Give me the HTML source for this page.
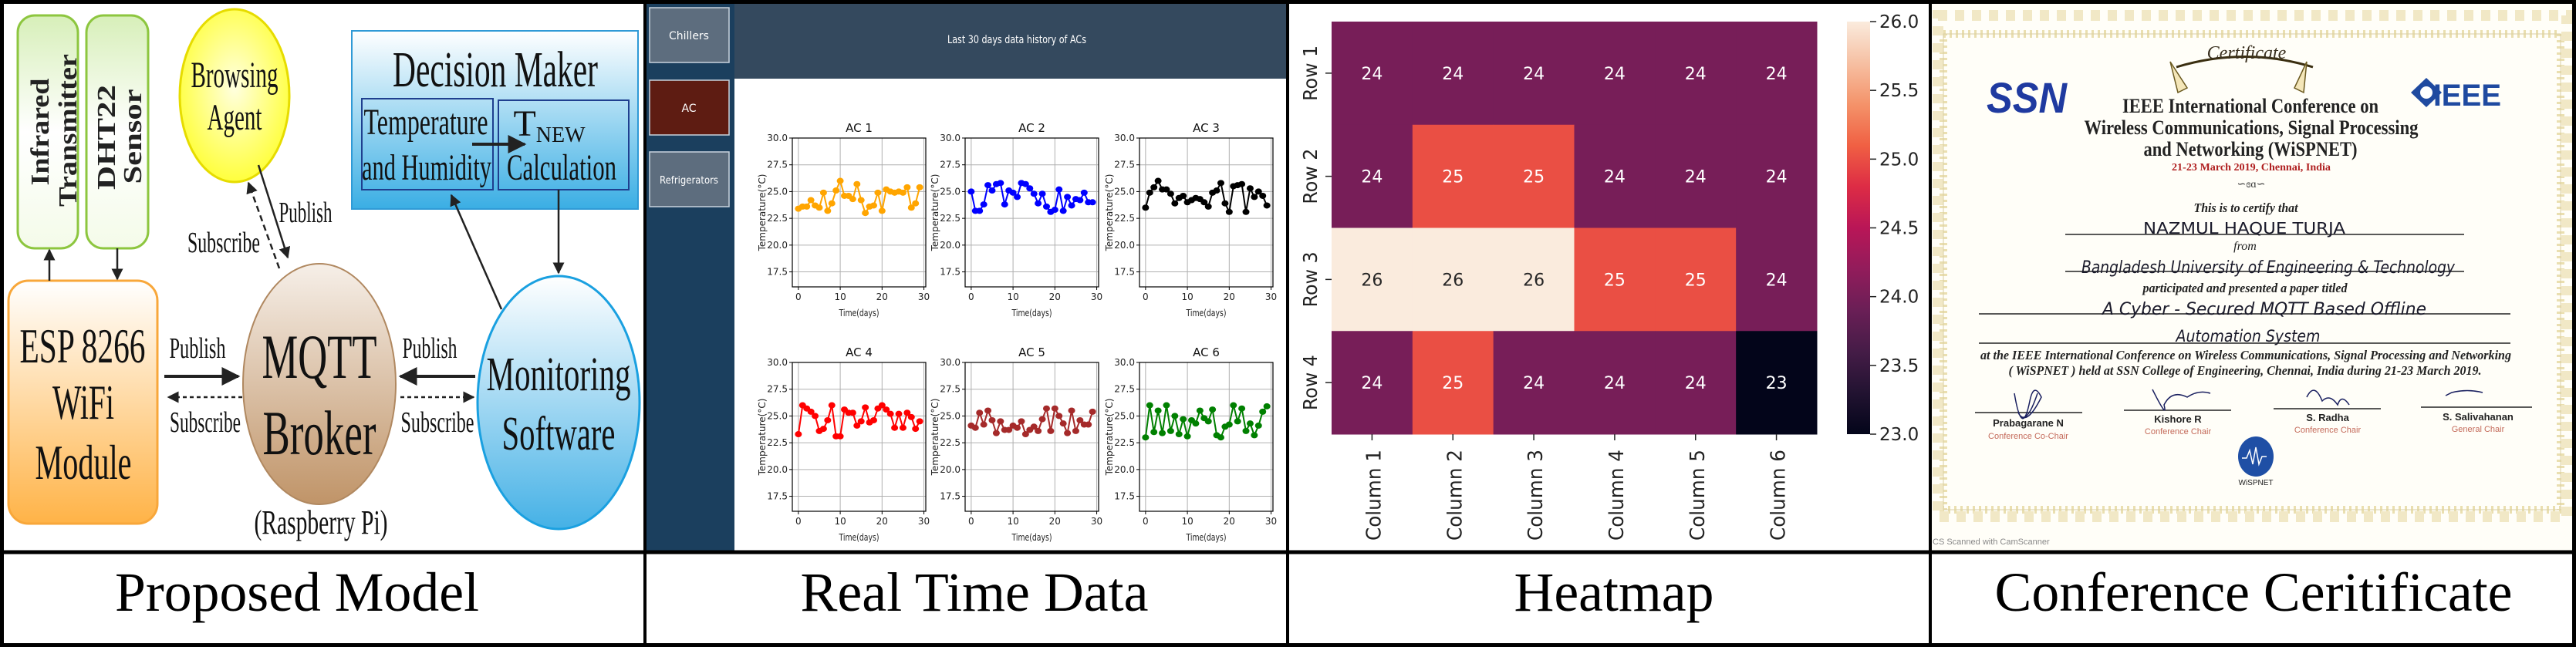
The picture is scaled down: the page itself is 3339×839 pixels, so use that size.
<!DOCTYPE html>
<html><head><meta charset="utf-8"><style>
html,body{margin:0;padding:0;background:#fff}
svg{display:block;font-family:"Liberation Serif",serif}
.sans{font-family:"DejaVu Sans","Liberation Sans",sans-serif}
</style></head><body>
<svg id="root" width="3339" height="839" viewBox="0 0 3339 839" xmlns="http://www.w3.org/2000/svg">
<defs>
<linearGradient id="gGreen" x1="0" y1="0" x2="0" y2="1"><stop offset="0" stop-color="#d7efb9"/><stop offset="0.5" stop-color="#fff"/><stop offset="1" stop-color="#f4fbe9"/></linearGradient>
<linearGradient id="gOrange" x1="0" y1="0" x2="0" y2="1"><stop offset="0" stop-color="#fff"/><stop offset="1" stop-color="#ffb347"/></linearGradient>
<radialGradient id="gYellow" cx="0.5" cy="0.45" r="0.6"><stop offset="0" stop-color="#ffffe0"/><stop offset="1" stop-color="#ffff2e"/></radialGradient>
<linearGradient id="gBlue" x1="0" y1="0" x2="0" y2="1"><stop offset="0" stop-color="#fff"/><stop offset="1" stop-color="#3aaee4"/></linearGradient>
<linearGradient id="gBrown" x1="0" y1="0" x2="0" y2="1"><stop offset="0" stop-color="#f6efe8"/><stop offset="1" stop-color="#c09468"/></linearGradient>
<linearGradient id="gBlue2" x1="0" y1="0" x2="0" y2="1"><stop offset="0" stop-color="#fff"/><stop offset="1" stop-color="#45b1e6"/></linearGradient>
<linearGradient id="gRocket" x1="0" y1="1" x2="0" y2="0">
<stop offset="0" stop-color="#03051a"/><stop offset="0.1" stop-color="#221331"/><stop offset="0.2" stop-color="#451c47"/><stop offset="0.3" stop-color="#6a1f56"/><stop offset="0.4" stop-color="#921c5b"/><stop offset="0.5" stop-color="#b91657"/><stop offset="0.6" stop-color="#dd2c45"/><stop offset="0.7" stop-color="#f06043"/><stop offset="0.8" stop-color="#f4936a"/><stop offset="0.9" stop-color="#f6c0a3"/><stop offset="1" stop-color="#faebdd"/></linearGradient>
<marker id="ah" viewBox="0 0 10 10" refX="9" refY="5" markerWidth="6" markerHeight="6" orient="auto-start-reverse"><path d="M0,0 L10,5 L0,10 z" fill="#222"/></marker>
</defs>

<!-- ============ PANEL 1: Proposed Model ============ -->
<g>
<rect x="23" y="20" width="78" height="302" rx="22" fill="url(#gGreen)" stroke="#8dc63f" stroke-width="3"/>
<rect x="112" y="20" width="80" height="302" rx="22" fill="url(#gGreen)" stroke="#8dc63f" stroke-width="3"/>
<g font-weight="bold" font-size="34" fill="#222">
<text transform="translate(63,171) rotate(-90)" text-anchor="middle" textLength="139" lengthAdjust="spacingAndGlyphs">Infrared</text>
<text transform="translate(99,169) rotate(-90)" text-anchor="middle" textLength="198" lengthAdjust="spacingAndGlyphs">Transmitter</text>
<text transform="translate(149,178) rotate(-90)" text-anchor="middle" textLength="136" lengthAdjust="spacingAndGlyphs">DHT22</text>
<text transform="translate(183,177) rotate(-90)" text-anchor="middle" textLength="123" lengthAdjust="spacingAndGlyphs">Sensor</text>
</g>
<rect x="11" y="364" width="193" height="315" rx="26" fill="url(#gOrange)" stroke="#f8a73a" stroke-width="3"/>
<ellipse cx="304" cy="124" rx="71" ry="112" fill="url(#gYellow)" stroke="#e6dc00" stroke-width="3"/>
<rect x="456" y="40" width="371" height="231" fill="url(#gBlue)" stroke="#2f9ad6" stroke-width="2"/>
<rect x="469" y="128" width="170" height="118" fill="none" stroke="#1f3f8f" stroke-width="2"/>
<rect x="646" y="130" width="169" height="116" fill="none" stroke="#1f3f8f" stroke-width="2"/>
<ellipse cx="414" cy="498" rx="99" ry="156" fill="url(#gBrown)" stroke="#b08860" stroke-width="2"/>
<ellipse cx="724" cy="522" rx="105" ry="164" fill="url(#gBlue2)" stroke="#1aa0e0" stroke-width="3"/>

<g stroke="#222" stroke-width="2.5" fill="none">
<line x1="64" y1="364" x2="64" y2="324" marker-end="url(#ah)"/>
<line x1="152" y1="322" x2="152" y2="362" marker-end="url(#ah)"/>
<line x1="213" y1="488" x2="309" y2="488" stroke-width="4" marker-end="url(#ah)"/>
<line x1="314" y1="515" x2="218" y2="515" stroke-dasharray="5,4" marker-end="url(#ah)"/>
<line x1="616" y1="488" x2="519" y2="488" stroke-width="4" marker-end="url(#ah)"/>
<line x1="519" y1="515" x2="614" y2="515" stroke-dasharray="5,4" marker-end="url(#ah)"/>
<line x1="335" y1="214" x2="373" y2="334" marker-end="url(#ah)"/>
<line x1="362" y1="348" x2="322" y2="237" stroke-dasharray="8,5" marker-end="url(#ah)"/>
<line x1="650" y1="401" x2="585" y2="253" marker-end="url(#ah)"/>
<line x1="724" y1="246" x2="724" y2="354" marker-end="url(#ah)"/>
<line x1="612" y1="187" x2="680" y2="187" stroke-width="4" marker-end="url(#ah)"/>
</g>

<g fill="#111">
<text x="304" y="113" font-size="48" text-anchor="middle" textLength="113" lengthAdjust="spacingAndGlyphs">Browsing</text>
<text x="304" y="168" font-size="48" text-anchor="middle" textLength="71" lengthAdjust="spacingAndGlyphs">Agent</text>
<text x="642" y="112" font-size="66" text-anchor="middle" textLength="266" lengthAdjust="spacingAndGlyphs">Decision Maker</text>
<text x="552" y="174" font-size="48" text-anchor="middle" textLength="161" lengthAdjust="spacingAndGlyphs">Temperature</text>
<text x="553" y="233" font-size="48" text-anchor="middle" textLength="168" lengthAdjust="spacingAndGlyphs">and Humidity</text>
<text x="712" y="176" font-size="48" text-anchor="middle">T<tspan font-size="28" dy="8">NEW</tspan></text>
<text x="728" y="233" font-size="48" text-anchor="middle" textLength="142" lengthAdjust="spacingAndGlyphs">Calculation</text>
<text x="290" y="327" font-size="38" text-anchor="middle" textLength="94" lengthAdjust="spacingAndGlyphs">Subscribe</text>
<text x="396" y="288" font-size="38" text-anchor="middle" textLength="69" lengthAdjust="spacingAndGlyphs">Publish</text>
<text x="107" y="470" font-size="64" text-anchor="middle" textLength="163" lengthAdjust="spacingAndGlyphs">ESP 8266</text>
<text x="108" y="543" font-size="64" text-anchor="middle" textLength="80" lengthAdjust="spacingAndGlyphs">WiFi</text>
<text x="108" y="621" font-size="64" text-anchor="middle" textLength="125" lengthAdjust="spacingAndGlyphs">Module</text>
<text x="256" y="464" font-size="38" text-anchor="middle" textLength="73" lengthAdjust="spacingAndGlyphs">Publish</text>
<text x="266" y="560" font-size="38" text-anchor="middle" textLength="92" lengthAdjust="spacingAndGlyphs">Subscribe</text>
<text x="557" y="464" font-size="38" text-anchor="middle" textLength="71" lengthAdjust="spacingAndGlyphs">Publish</text>
<text x="567" y="560" font-size="38" text-anchor="middle" textLength="95" lengthAdjust="spacingAndGlyphs">Subscribe</text>
<text x="414" y="490" font-size="82" text-anchor="middle" textLength="149" lengthAdjust="spacingAndGlyphs">MQTT</text>
<text x="414" y="589" font-size="82" text-anchor="middle" textLength="147" lengthAdjust="spacingAndGlyphs">Broker</text>
<text x="724" y="506" font-size="62" text-anchor="middle" textLength="187" lengthAdjust="spacingAndGlyphs">Monitoring</text>
<text x="724" y="583" font-size="62" text-anchor="middle" textLength="147" lengthAdjust="spacingAndGlyphs">Software</text>
<text x="416" y="692" font-size="44" text-anchor="middle" textLength="173" lengthAdjust="spacingAndGlyphs">(Raspberry Pi)</text>
</g>
</g>

<!-- ============ PANEL 2: Real Time Data ============ -->
<g>
<rect x="838" y="5" width="114" height="710" fill="#1b3f5e"/>
<rect x="952" y="5" width="716" height="97" fill="#34495e"/>
<text class="sans" x="1318" y="56" font-size="14" fill="#fff" text-anchor="middle" textLength="180" lengthAdjust="spacingAndGlyphs">Last 30 days data history of ACs</text>
<g><rect x="842" y="10" width="103" height="71" fill="#5d6d7e" stroke="#c9d4de" stroke-width="1.5"/><text class="sans" x="893" y="51" font-size="14" fill="#fff" text-anchor="middle">Chillers</text></g>
<g><rect x="842" y="104" width="103" height="71" fill="#5e1c12" stroke="#c9d4de" stroke-width="1.5"/><text class="sans" x="893" y="145" font-size="14" fill="#fff" text-anchor="middle">AC</text></g>
<g><rect x="842" y="197" width="103" height="71" fill="#5d6d7e" stroke="#c9d4de" stroke-width="1.5"/><text class="sans" x="893" y="238" font-size="13" fill="#fff" text-anchor="middle" textLength="76" lengthAdjust="spacingAndGlyphs">Refrigerators</text></g>
<g id="acCharts"></g>
</g>

<!-- ============ PANEL 3: Heatmap ============ -->
<g id="heatmap"></g>

<!-- ============ PANEL 4: Certificate ============ -->
<g>
<rect x="2502" y="5" width="833" height="710" fill="#fffef8"/>
<rect x="2519" y="44" width="800" height="617" fill="none" stroke="#eadfb0" stroke-width="10" stroke-dasharray="3,5"/>
<rect x="2512" y="20" width="815" height="650" fill="none" stroke="#f1e8c6" stroke-width="14" stroke-dasharray="12,10"/>
<rect x="2519" y="44" width="800" height="617" fill="none" stroke="#d9cfa5" stroke-width="1"/>
<path d="M2821,87 Q2910,60 2998,87" fill="none" stroke="#3a2e10" stroke-width="3"/>
<path d="M2813,80 l10,40 l12,-6 z M2990,80 l-4,40 l-12,-6 z" fill="#f4e6b8" stroke="#6b5a20" stroke-width="1.5"/>
<text x="2912" y="76" font-size="24" font-style="italic" fill="#3a3020" text-anchor="middle">Certificate</text>
<text x="2627" y="146" font-size="56" font-weight="bold" font-style="italic" fill="#1f3aa0" text-anchor="middle" textLength="104" lengthAdjust="spacingAndGlyphs" style="font-family:'Liberation Sans',sans-serif">SSN</text>
<g><path d="M3145,101 l20,19 l-20,19 l-20,-19 z" fill="#1f4aa0"/><circle cx="3145" cy="120" r="8" fill="#fff"/><text x="3198" y="137" font-size="40" font-weight="bold" fill="#1f4aa0" text-anchor="middle" textLength="88" lengthAdjust="spacingAndGlyphs" style="font-family:'Liberation Sans',sans-serif">IEEE</text></g>
<g fill="#222" font-weight="bold" text-anchor="middle">
<text x="2917" y="146" font-size="26" textLength="332" lengthAdjust="spacingAndGlyphs">IEEE International Conference on</text>
<text x="2918" y="174" font-size="26" textLength="433" lengthAdjust="spacingAndGlyphs">Wireless Communications, Signal Processing</text>
<text x="2917" y="202" font-size="26" textLength="277" lengthAdjust="spacingAndGlyphs">and Networking (WiSPNET)</text>
<text x="2918" y="221" font-size="14" fill="#b02020" textLength="206" lengthAdjust="spacingAndGlyphs">21-23 March 2019, Chennai, India</text>
</g>
<text x="2918" y="243" font-size="14" text-anchor="middle" fill="#333">∽ɞɑ∽</text>
<g fill="#222" font-style="italic" text-anchor="middle">
<text x="2911" y="275" font-size="17" font-weight="bold" textLength="135" lengthAdjust="spacingAndGlyphs">This is to certify that</text>
<text x="2910" y="324" font-size="16">from</text>
<text x="2910" y="379" font-size="17" font-weight="bold" textLength="265" lengthAdjust="spacingAndGlyphs">participated and presented a paper titled</text>
<text x="2911" y="466" font-size="17" font-weight="bold" textLength="688" lengthAdjust="spacingAndGlyphs">at the IEEE International Conference on Wireless Communications, Signal Processing and Networking</text>
<text x="2910" y="486" font-size="17" font-weight="bold" textLength="613" lengthAdjust="spacingAndGlyphs">( WiSPNET ) held at SSN College of Engineering, Chennai, India during 21-23 March 2019.</text>
</g>
<g stroke="#222" stroke-width="1.5">
<line x1="2677" y1="304" x2="3194" y2="304"/><line x1="2677" y1="352" x2="3194" y2="352"/>
<line x1="2565" y1="407" x2="3254" y2="407"/><line x1="2565" y1="445" x2="3254" y2="445"/>
<line x1="2560" y1="535" x2="2699" y2="535"/><line x1="2753" y1="532" x2="2892" y2="532"/>
<line x1="2947" y1="530" x2="3086" y2="530"/><line x1="3138" y1="528" x2="3282" y2="528"/>
</g>
<g fill="#1a1a2a" text-anchor="middle" style="font-family:'DejaVu Sans',sans-serif">
<text x="2909" y="303" font-size="20" textLength="262" lengthAdjust="spacingAndGlyphs">NAZMUL HAQUE TURJA</text>
<text x="2940" y="354" font-size="22" font-style="italic" textLength="484" lengthAdjust="spacingAndGlyphs">Bangladesh University of Engineering &amp; Technology</text>
<text x="2935" y="408" font-size="22" font-style="italic" textLength="420" lengthAdjust="spacingAndGlyphs">A Cyber - Secured MQTT Based Offline</text>
<text x="2914" y="443" font-size="21" font-style="italic" textLength="187" lengthAdjust="spacingAndGlyphs">Automation System</text>
</g>
<g fill="none" stroke="#1a2060" stroke-width="1.5">
<path d="M2611,510 q10,60 20,10 q5,-25 15,-5 q-20,40 -30,20 q10,20 25,-25"/>
<path d="M2790,505 q20,40 15,20 q10,-20 30,-10 q15,-10 30,-5"/>
<path d="M2990,515 q10,-20 20,5 q10,-10 20,5 q5,-15 15,0"/>
<path d="M3170,513 l8,-4 q20,-5 40,0"/>
</g>
<g text-anchor="middle" style="font-family:'Liberation Sans',sans-serif">
<text x="2629" y="553" font-size="13" font-weight="bold" fill="#222">Prabagarane N</text>
<text x="2629" y="569" font-size="11" fill="#c46a5a">Conference Co-Chair</text>
<text x="2823" y="548" font-size="13" font-weight="bold" fill="#222">Kishore R</text>
<text x="2823" y="563" font-size="11" fill="#c46a5a">Conference Chair</text>
<text x="3017" y="546" font-size="13" font-weight="bold" fill="#222">S. Radha</text>
<text x="3017" y="561" font-size="11" fill="#c46a5a">Conference Chair</text>
<text x="3212" y="545" font-size="13" font-weight="bold" fill="#222">S. Salivahanan</text>
<text x="3212" y="560" font-size="11" fill="#c46a5a">General Chair</text>
<text x="2924" y="629" font-size="10" fill="#222">WiSPNET</text>
</g>
<ellipse cx="2924" cy="592" rx="23" ry="26" fill="#1f4fa5"/>
<path d="M2906,594 l6,0 l4,-10 l4,18 l4,-22 l4,22 l4,-10 l6,0" fill="none" stroke="#fff" stroke-width="1.5"/>
<text x="2505" y="706" font-size="11" fill="#888" style="font-family:'Liberation Sans',sans-serif">CS Scanned with CamScanner</text>
</g>

<!-- ============ Captions & borders ============ -->
<g fill="#000" font-size="72">
<text x="385" y="792" text-anchor="middle" textLength="472" lengthAdjust="spacingAndGlyphs">Proposed Model</text>
<text x="1263" y="792" text-anchor="middle" textLength="451" lengthAdjust="spacingAndGlyphs">Real Time Data</text>
<text x="2092" y="792" text-anchor="middle" textLength="259" lengthAdjust="spacingAndGlyphs">Heatmap</text>
<text x="2921" y="792" text-anchor="middle" textLength="671" lengthAdjust="spacingAndGlyphs">Conference Ceritificate</text>
</g>
<g stroke="#000" fill="none">
<rect x="2.5" y="2.5" width="3334" height="834" stroke-width="5"/>
<line x1="0" y1="716" x2="3339" y2="716" stroke-width="5"/>
<line x1="836" y1="0" x2="836" y2="839" stroke-width="4"/>
<line x1="1669" y1="0" x2="1669" y2="839" stroke-width="4"/>
<line x1="2502" y1="0" x2="2502" y2="839" stroke-width="4"/>
</g>
</svg>

<script>
const NS = 'http://www.w3.org/2000/svg';
// ---- AC line chart data ----
const acNames = ['AC 1','AC 2','AC 3','AC 4','AC 5','AC 6'];
const acColors = ['orange','blue','black','red','brown','green'];
const ac1 = [23.4,23.6,23.6,24.2,23.7,23.5,24.9,23.2,23.9,25.1,26.0,24.6,24.6,24.3,25.7,24.2,23.0,23.6,23.7,24.9,23.2,25.2,25.0,24.9,25.0,24.9,25.4,23.5,23.9,25.4];
const ac2 = [25.0,23.2,23.2,23.8,25.6,25.1,25.7,25.8,23.8,25.1,24.9,24.5,25.8,25.7,25.3,24.8,23.9,24.8,23.6,23.1,23.3,25.2,23.2,24.5,23.7,24.3,24.2,24.9,24.0,24.0];
const ac3 = [23.5,24.9,25.4,26.0,25.2,25.2,24.8,23.9,24.4,24.6,24.0,24.2,24.4,24.3,24.0,23.6,24.9,25.1,25.8,23.9,23.1,25.5,25.6,25.7,23.1,25.3,24.5,25.0,24.6,23.7];
const ac4 = [23.3,26.0,25.7,25.4,25.0,23.6,23.8,24.6,26.0,23.1,23.1,25.6,25.3,25.3,24.1,24.5,25.8,24.4,24.6,25.7,26.0,25.6,25.2,23.9,25.2,23.9,25.3,24.9,23.8,24.5];
const ac5 = [24.1,23.9,25.3,24.2,25.5,24.6,23.4,24.5,23.7,23.7,24.1,23.9,24.5,23.3,23.7,24.0,23.6,24.7,25.7,23.6,25.7,25.0,24.3,23.4,25.5,23.6,24.6,24.2,24.2,25.4];
const ac6 = [23.0,26.0,23.5,25.5,23.4,26.0,23.6,25.0,23.3,24.7,23.1,24.6,24.3,25.5,24.8,24.5,25.6,23.2,23.0,24.0,24.2,26.0,24.5,25.7,23.6,24.3,23.2,24.1,25.4,25.9];
const acSeries = [ac1,ac2,ac3,ac4,ac5,ac6];
const yTickVals = [17.5,20.0,22.5,25.0,27.5,30.0];
const xTickVals = [0,10,20,30];
// ---- Heatmap data ----
const hmRows = ['Row 1','Row 2','Row 3','Row 4'];
const hmCols = ['Column 1','Column 2','Column 3','Column 4','Column 5','Column 6'];
const hmValues = [[24,24,24,24,24,24],[24,25,25,24,24,24],[26,26,26,25,25,24],[24,25,24,24,24,23]];
const cbTicks = [23.0,23.5,24.0,24.5,25.0,25.5,26.0];

function mk(tag, attrs, parent, txt){const e=document.createElementNS(NS,tag);for(const k in attrs)e.setAttribute(k,attrs[k]);if(txt!==undefined)e.textContent=txt;parent.appendChild(e);return e;}

// AC charts
const ac = document.getElementById('acCharts');
const colX=[1027,1251,1477], rowY=[179,470], W=173, H=193;
const xMin=-1.45,xMax=30.45,yMin=16.1,yMax=30;
acSeries.forEach((s,i)=>{
  const x0=colX[i%3], y0=rowY[Math.floor(i/3)];
  const sx=v=>x0+(v-xMin)/(xMax-xMin)*W, sy=v=>y0+H-(v-yMin)/(yMax-yMin)*H;
  const g=mk('g',{},ac);
  
  
  mk('rect',{x:x0,y:y0,width:W,height:H,fill:'#fff'},g);
  yTickVals.forEach(t=>{
    const y=sy(t);
    mk('line',{x1:x0,x2:x0+W,y1:y,y2:y,stroke:'#b0b0b0','stroke-width':1},g);
    mk('line',{x1:x0-4,x2:x0,y1:y,y2:y,stroke:'#000'},g);
    const tl=mk('text',{x:x0-6,y:y+4,'font-size':12,'text-anchor':'end',class:'sans',fill:'#222'},g,t.toFixed(1));
    
    
  });
  xTickVals.forEach(t=>{
    const x=sx(t);
    mk('line',{x1:x,x2:x,y1:y0,y2:y0+H,stroke:'#b0b0b0','stroke-width':1},g);
    mk('line',{x1:x,x2:x,y1:y0+H,y2:y0+H+4,stroke:'#000'},g);
    const tl=mk('text',{x:x,y:y0+H+17,'font-size':12,'text-anchor':'middle',class:'sans',fill:'#222'},g,String(t));
    
    
  });
  mk('rect',{x:x0,y:y0,width:W,height:H,fill:'none',stroke:'#000','stroke-width':1.2},g);
  const pts=s.map((v,k)=>sx(k).toFixed(1)+','+sy(v).toFixed(1)).join(' ');
  const pl=mk('polyline',{points:pts,fill:'none',stroke:acColors[i],'stroke-width':2},g);
  
  
  s.forEach((v,k)=>{
    const c=mk('ellipse',{cx:sx(k),cy:sy(v),rx:4.5,ry:4,fill:acColors[i]},g);
    
    
  });
  const tt=mk('text',{x:x0+W/2,y:y0-8,'font-size':15,'text-anchor':'middle',class:'sans',fill:'#111'},g,acNames[i]);
  
  
  const yl=mk('text',{transform:`translate(${x0-35},${y0+H/2}) rotate(-90)`,'font-size':12,'text-anchor':'middle',class:'sans',fill:'#222'},g,'Temperature(°C)');
  
  
  const xl=mk('text',{x:x0+W/2,y:y0+H+38,'font-size':12,'text-anchor':'middle',class:'sans',fill:'#222',textLength:52,lengthAdjust:'spacingAndGlyphs'},g,'Time(days)');
  
  
});

// Heatmap
const rocketStops=[[0,'#03051a'],[0.1,'#221331'],[0.2,'#451c47'],[0.3,'#6a1f56'],[0.4,'#921c5b'],[0.5,'#b91657'],[0.6,'#dd2c45'],[0.7,'#f06043'],[0.8,'#f4936a'],[0.9,'#f6c0a3'],[1,'#faebdd']];
function rocket(t){t=Math.max(0,Math.min(1,t));for(let i=1;i<rocketStops.length;i++){if(t<=rocketStops[i][0]){const [a,ca]=rocketStops[i-1],[b,cb]=rocketStops[i];const f=(t-a)/(b-a);const p=c=>[1,3,5].map(j=>parseInt(c.substr(j,2),16));const A=p(ca),B=p(cb);return 'rgb('+A.map((v,j)=>Math.round(v+(B[j]-v)*f)).join(',')+')';}}return rocketStops[rocketStops.length-1][1];}
const hm=document.getElementById('heatmap');
const hx0=1726,hy0=28,hW=629,hH=535,vmin=23,vmax=26;
const cw=hW/hmCols.length, ch=hH/hmRows.length;
hmValues.forEach((row,r)=>row.forEach((v,c)=>{
  const t=(v-vmin)/(vmax-vmin);
  const cell=mk('rect',{x:hx0+c*cw,y:hy0+r*ch,width:cw+0.5,height:ch+0.5,fill:rocket(t)},hm);
  
  
  const lb=mk('text',{x:hx0+(c+0.5)*cw,y:hy0+(r+0.5)*ch+8,'font-size':22,'text-anchor':'middle',class:'sans',fill:t>0.85?'#262626':'#fff'},hm,String(v));
  
  
}));
hmRows.forEach((n,r)=>{
  const y=hy0+(r+0.5)*ch;
  mk('line',{x1:hx0-8,x2:hx0,y1:y,y2:y,stroke:'#222','stroke-width':1.5},hm);
  const t=mk('text',{transform:`translate(1707,${y}) rotate(-90)`,'font-size':25,'text-anchor':'middle',class:'sans',fill:'#222',textLength:72,lengthAdjust:'spacingAndGlyphs'},hm,n);
  
  
});
hmCols.forEach((n,c)=>{
  const x=hx0+(c+0.5)*cw;
  mk('line',{x1:x,x2:x,y1:hy0+hH,y2:hy0+hH+8,stroke:'#222','stroke-width':1.5},hm);
  const t=mk('text',{transform:`translate(${x+11},583) rotate(-90)`,'font-size':26,'text-anchor':'end',class:'sans',fill:'#222',textLength:118,lengthAdjust:'spacingAndGlyphs'},hm,n);
  
  
});
const cb=mk('rect',{x:2394,y:hy0,width:30,height:hH,fill:'url(#gRocket)'},hm);


cbTicks.forEach(v=>{
  const y=hy0+hH-(v-vmin)/(vmax-vmin)*hH;
  mk('line',{x1:2424,x2:2432,y1:y,y2:y,stroke:'#222','stroke-width':1.5},hm);
  const t=mk('text',{x:2436,y:y+8,'font-size':23,class:'sans',fill:'#222'},hm,v.toFixed(1));
  
  
});
</script>
</body></html>
